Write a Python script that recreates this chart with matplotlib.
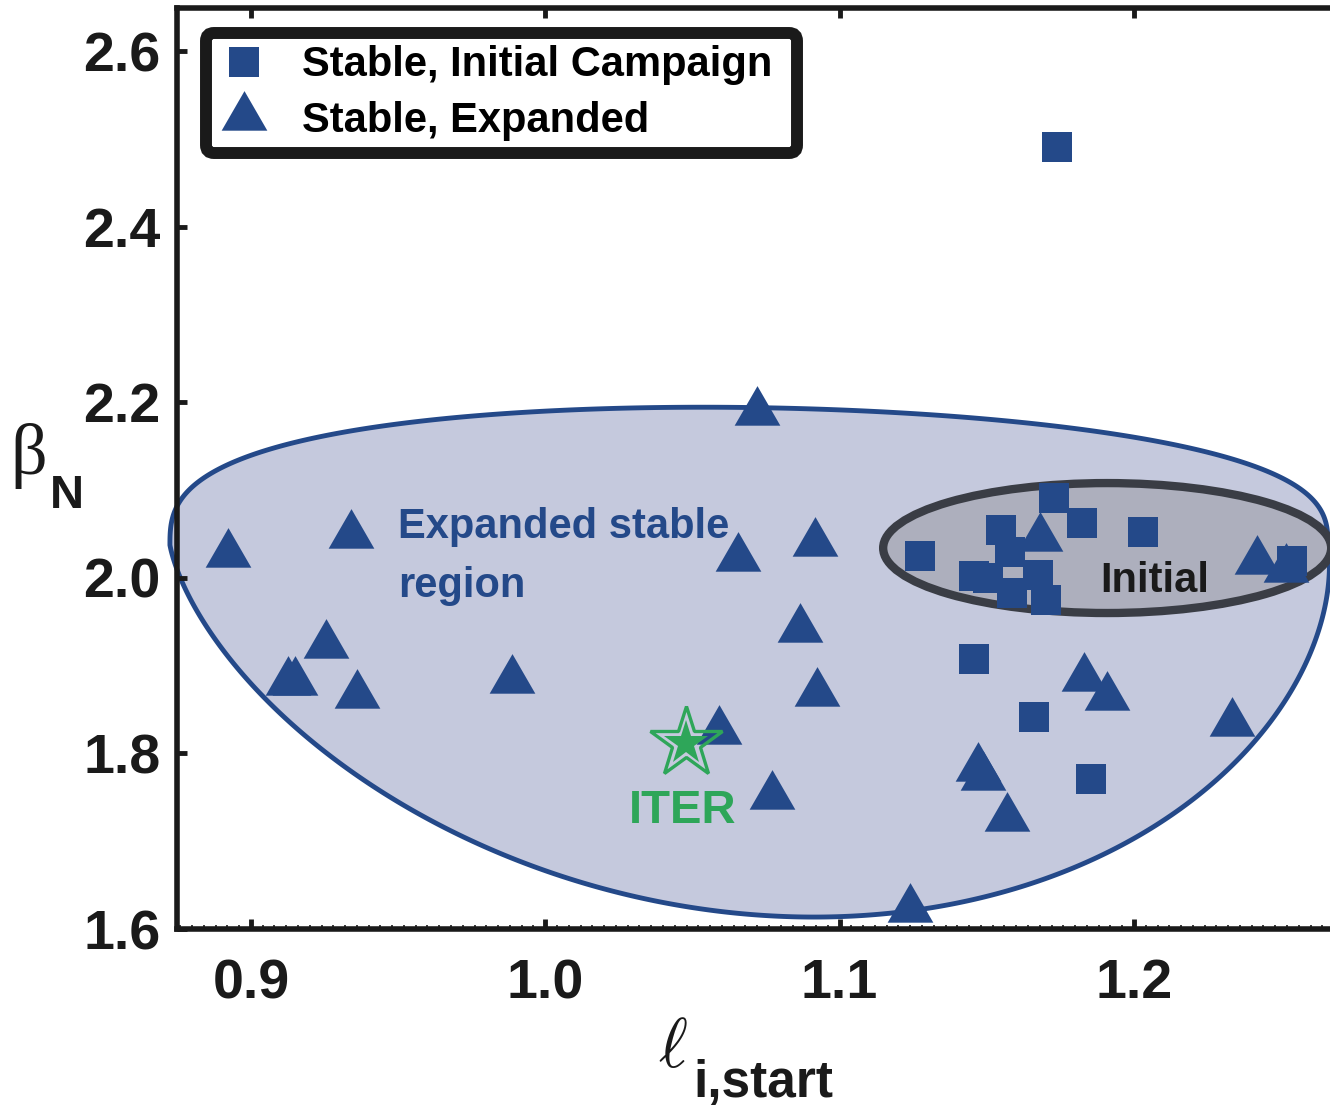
import numpy as np
import matplotlib
matplotlib.use('Agg')
import matplotlib.pyplot as plt
from matplotlib.patches import Ellipse, Polygon
from matplotlib.ticker import MultipleLocator, FixedLocator, FormatStrFormatter

plt.rcParams['font.family'] = ['Liberation Sans', 'DejaVu Sans']
plt.rcParams['font.weight'] = 'bold'
plt.rcParams['axes.linewidth'] = 4

BLUE = '#244989'
LAVENDER = '#C5C9DD'
GRAY_FILL = '#ADAFBD'
GRAY_EDGE = '#3A3D45'
GREEN = '#2EA659'
INK = '#1A1A1A'

# Stable shots, initial campaign (squares)
init_li = [1.1739, 1.1273, 1.1548, 1.1728, 1.1824, 1.2031, 1.1457, 1.1504,
           1.1579, 1.1674, 1.1586, 1.1701, 1.2537, 1.1457, 1.1661, 1.1854]
init_bn = [2.4907, 2.0248, 2.0544, 2.0909, 2.0624, 2.0522, 2.0020, 1.9998,
           2.0294, 2.0032, 1.9827, 1.9747, 2.0191, 1.9075, 1.8415, 1.7708]

# Stable shots, expanded campaign (triangles)
exp_li = [0.8922, 0.9340, 0.9255, 0.9126, 0.9150, 0.9360, 0.9887, 1.0719,
          1.0655, 1.0916, 1.0865, 1.0923, 1.0590, 1.0770, 1.1239, 1.1470,
          1.1487, 1.1569, 1.1830, 1.1909, 1.2333, 1.2418, 1.2517, 1.1681]
exp_bn = [2.027, 2.049, 1.923, 1.881, 1.881, 1.867, 1.884, 2.189,
          2.022, 2.040, 1.942, 1.869, 1.826, 1.752, 1.623, 1.783,
          1.773, 1.726, 1.886, 1.864, 1.835, 2.019, 2.010, 2.045]

iter_li, iter_bn = 1.0478, 1.8118

# region outlines (data units)
exp_cx, exp_cy = 1.0692, 2.0373
exp_a = 0.1967
exp_b_top, exp_b_bot = 0.157, 0.4237
exp_skew_top, exp_skew_bot = 0.0156, 0.0221
init_cx, init_cy = 1.1909, 2.0339
init_w, init_h = 0.1522, 0.148

fig = plt.figure(figsize=(13.3, 11.07), dpi=100)
ax = fig.add_axes([177 / 1330, 1 - 929 / 1107, 1 - 177 / 1330, 921 / 1107])
ax.set_xlim(0.8749, 1.2666)
ax.set_ylim(1.6, 2.649)

# expanded stable region: egg-shaped outline (flat top, deep rounded bottom)
t = np.linspace(0, 2 * np.pi, 1441)
c, s = np.cos(t), np.sin(t)
up = s >= 0
ys = np.where(up, np.abs(s) ** (2 / 2.8), np.abs(s) ** (2 / 1.7))
ex = exp_cx + exp_a * c + np.where(up, -exp_skew_top * s ** 2, exp_skew_bot * ys)
ey = exp_cy + np.where(up, exp_b_top * ys, -exp_b_bot * ys)
ax.add_patch(Polygon(np.column_stack([ex, ey]), closed=True, facecolor=LAVENDER,
                     edgecolor=BLUE, lw=3.5, zorder=1, clip_on=False))

ax.add_patch(Ellipse((init_cx, init_cy), init_w, init_h, facecolor=GRAY_FILL,
                     edgecolor=GRAY_EDGE, lw=6, zorder=2, clip_on=False))

ax.plot(exp_li, exp_bn, ls='none', marker=(3, 0, 0), ms=38, color=BLUE, mew=0,
        zorder=3, label='Stable, Expanded', clip_on=False)
ax.plot(init_li, init_bn, ls='none', marker='s', ms=21.6, color=BLUE, mew=0,
        zorder=4, label='Stable, Initial Campaign', clip_on=False)

# ITER star
ax.plot(iter_li, iter_bn, ls='none', marker='*', ms=54, mfc='none', mec=GREEN, mew=2.4, zorder=5)
ax.plot(iter_li, iter_bn, ls='none', marker='*', ms=33, color=GREEN, mew=0, zorder=5)
ax.text(1.0468, 1.7207, 'ITER', color=GREEN, fontsize=34, ha='center', va='baseline', zorder=6)

ax.text(0.950, 2.0453, 'Expanded stable', color=BLUE, fontsize=30, ha='left', va='baseline', zorder=6)
ax.text(0.950, 1.9781, 'region', color=BLUE, fontsize=30, ha='left', va='baseline', zorder=6)
ax.text(1.1885, 1.9838, 'Initial', color=INK, fontsize=30, ha='left', va='baseline', zorder=6)

# legend (squares first)
h, l = ax.get_legend_handles_labels()
leg = ax.legend(h[::-1], l[::-1], loc='upper left', mode='expand',
                bbox_to_anchor=(0.02515, 0.8, 0.5126, 0.17286), borderaxespad=0,
                fontsize=30, handlelength=1.22, handletextpad=0.78, borderpad=0.3,
                labelspacing=0.37, numpoints=1, fancybox=True, framealpha=1,
                edgecolor=INK)
leg.get_frame().set_linewidth(8.6)
leg.set_zorder(10)

# axes styling
for side in ['left', 'bottom', 'top']:
    ax.spines[side].set_color(INK)
ax.spines['right'].set_visible(False)
ax.xaxis.set_major_locator(FixedLocator([0.9, 1.0, 1.1, 1.2]))
ax.xaxis.set_minor_locator(MultipleLocator(0.004))
ax.yaxis.set_major_locator(FixedLocator([1.6, 1.8, 2.0, 2.2, 2.4, 2.6]))
ax.xaxis.set_major_formatter(FormatStrFormatter('%.1f'))
ax.yaxis.set_major_formatter(FormatStrFormatter('%.1f'))
ax.tick_params(which='major', direction='in', length=7, width=3.5, color=INK,
               labelsize=40, labelcolor=INK)
ax.tick_params(axis='x', which='major', top=True, pad=21)
ax.tick_params(axis='y', which='major', pad=12, right=False)
ax.tick_params(axis='x', which='minor', direction='in', bottom=True, top=False,
               length=3, width=1.2, color=INK)
ax.tick_params(axis='y', which='minor', left=False, right=False)

# axis labels
fig.text(29 / 1330, 1 - 456 / 1107, '\u03b2', family=['Liberation Serif', 'DejaVu Serif'],
         fontweight='normal', fontsize=52, color=INK, ha='center', va='center')
fig.text(50 / 1330, 1 - 508 / 1107, 'N', fontsize=34, color=INK, ha='left', va='baseline')
fig.text(673 / 1330, 1 - 1067 / 1107, r'$\ell$', math_fontfamily='cm',
         fontsize=50, color=INK, ha='center', va='baseline')
fig.text(693 / 1330, 1 - 1097 / 1107, 'i,start', fontsize=37, color=INK, ha='left', va='baseline')

fig.savefig('out.png', dpi=100)
